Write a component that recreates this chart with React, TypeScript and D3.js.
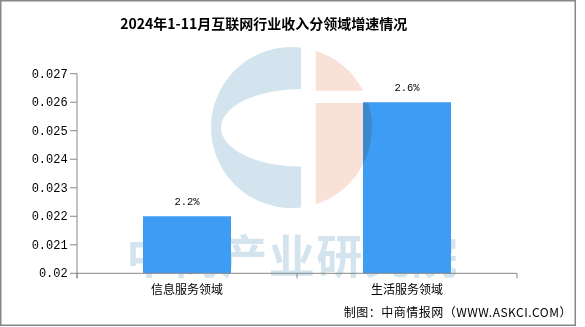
import React from "react";
import * as d3 from "d3";

const title = "2024年1-11月互联网行业收入分领域增速情况";
const categories = ["信息服务领域", "生活服务领域"];
const values = [0.022, 0.026];
const valueLabels = ["2.2%", "2.6%"];
const yTicks = [0.02, 0.021, 0.022, 0.023, 0.024, 0.025, 0.026, 0.027];
const yTickLabels = ["0.02", "0.021", "0.022", "0.023", "0.024", "0.025", "0.026", "0.027"];
const source = "制图：中商情报网（WWW.ASKCI.COM）";
const watermark = "中商产业研究院";

export default function App() {
  const W = 585, H = 327;
  const left = 77, right = 517, top = 73.7, bottom = 273.3;
  const y = d3.scaleLinear().domain([0.02, 0.027]).range([bottom, top]);
  const x = d3.scaleBand().domain(categories).range([left, right]).padding(0);
  const bw = x.bandwidth() * 0.4;
  const axisColor = "#888";
  const mono = "'Liberation Mono', 'DejaVu Sans Mono', monospace";
  const cjk = "'Noto Sans CJK SC', 'Noto Sans', sans-serif";

  // watermark logo geometry
  const cx = 291.5, cy = 127.5, r = 80.5;
  const gapL = 301, gapR = 315.7;

  const xTickPos = [left, ...categories.map((c) => (x(c) as number) + x.bandwidth())];

  return (
    <svg width={W} height={H} style={{ position: "absolute", left: 0, top: 0 }} fontFamily={cjk}>
      <defs>
        <clipPath id="leftHalf">
          <rect x={0} y={0} width={gapL} height={H} />
        </clipPath>
        <clipPath id="rightTop">
          <rect x={gapR} y={0} width={W} height={90.7} />
          <rect x={gapR} y={103} width={W} height={H} />
        </clipPath>
        <mask id="cMask">
          <rect x={0} y={0} width={W} height={H} fill="white" />
          <ellipse cx={gapL} cy={127.8} rx={80} ry={38.8} fill="black" />
        </mask>
      </defs>
      <rect x={0} y={0} width={W} height={H} fill="#fff" />
      <rect x={0.75} y={0.75} width={574.5} height={324.5} fill="none" stroke="#888" strokeWidth={1.5} />

      <text x={263.7} y={28.5} textAnchor="middle" fontSize={14} fontWeight="bold" fill="#000">
        {title}
      </text>

      {/* watermark text behind bars */}
      <text x={292.5} y={273} textAnchor="middle" fontSize={46} fontWeight="bold" fill="#d3e4ee" letterSpacing={1.5}>
        {watermark}
      </text>

      {/* bars */}
      {categories.map((c, i) => {
        const bx = (x(c) as number) + (x.bandwidth() - bw) / 2;
        return (
          <rect key={c} x={bx} y={y(values[i])} width={bw} height={bottom - y(values[i])} fill="#3d9cf3" />
        );
      })}

      {/* watermark logo */}
      <g style={{ mixBlendMode: "multiply" }}>
        <g clipPath="url(#leftHalf)">
          <circle cx={cx} cy={cy} r={r} fill="#d3e4ee" mask="url(#cMask)" />
        </g>
        <g clipPath="url(#rightTop)">
          <circle cx={cx} cy={cy} r={r} fill="#fae1d7" />
        </g>
      </g>

      {/* value labels */}
      {categories.map((c, i) => (
        <text
          key={c}
          x={(x(c) as number) + x.bandwidth() / 2}
          y={y(values[i]) - 11}
          textAnchor="middle"
          fontSize={10.5}
          fontFamily={mono}
          fill="#000"
        >
          {valueLabels[i]}
        </text>
      ))}

      {/* y axis */}
      <line x1={left} x2={left} y1={top} y2={bottom + 5} stroke={axisColor} strokeWidth={1} />
      {yTicks.map((t, i) => (
        <g key={t}>
          <line x1={left - 7} x2={left} y1={y(t)} y2={y(t)} stroke={axisColor} />
          <text x={67.7} y={y(t) + 4} textAnchor="end" fontSize={12} fontFamily={mono} fill="#000">
            {yTickLabels[i]}
          </text>
        </g>
      ))}

      {/* x axis */}
      <line x1={left} x2={right} y1={bottom} y2={bottom} stroke={axisColor} />
      {xTickPos.map((p, i) => (
        <line key={i} x1={p} x2={p} y1={bottom} y2={bottom + 5} stroke={axisColor} />
      ))}
      {categories.map((c) => (
        <text key={c} x={(x(c) as number) + x.bandwidth() / 2} y={294} textAnchor="middle" fontSize={12} fill="#000">
          {c}
        </text>
      ))}

      <text x={572} y={317} textAnchor="end" fontSize={12} fill="#000" letterSpacing={0.5}>
        {source}
      </text>
    </svg>
  );
}
